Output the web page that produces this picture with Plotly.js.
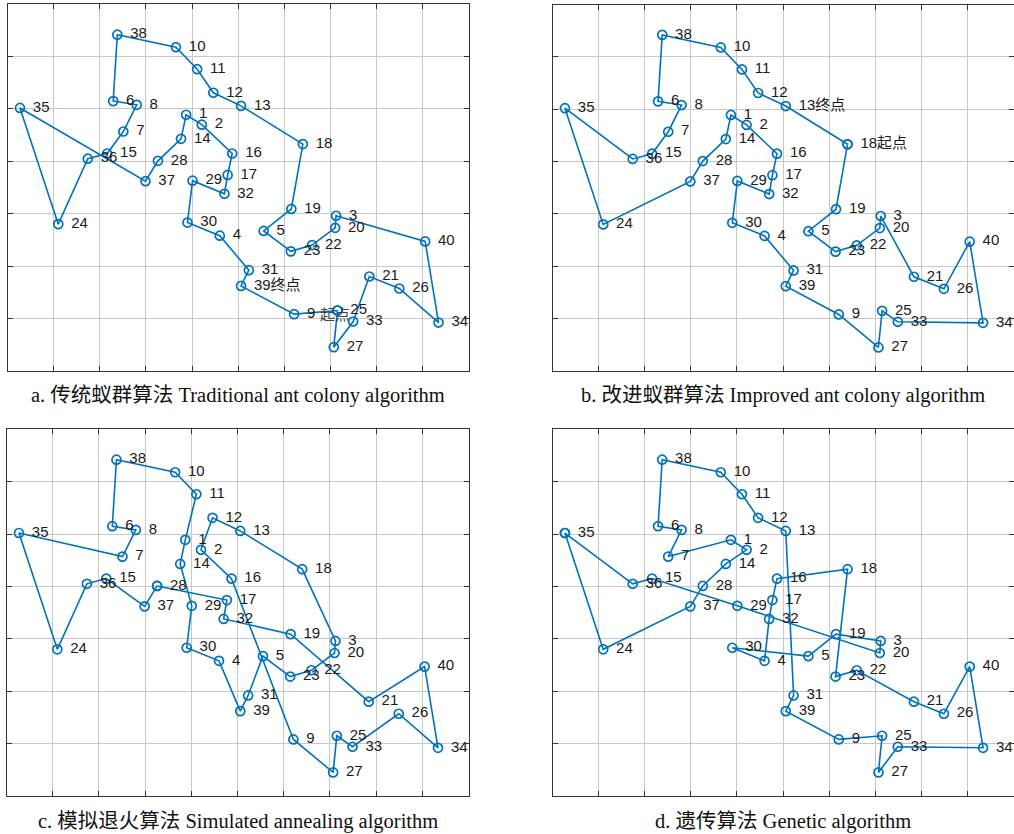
<!DOCTYPE html>
<html>
<head>
<meta charset="utf-8">
<script src="https://cdn.plot.ly/plotly-3.0.1.min.js"></script>
<style>html,body{margin:0;padding:0;background:#fff;}#chart{width:1014px;height:834px;}</style>
</head>
<body>
<div id="chart"></div>
<script>
// City coordinates (city 1..40)
const cityX = [38.7,42.1,71.2,46.0,55.5,22.9,25.1,28.0,62.1,36.5,41.1,44.6,50.6,37.6,21.6,48.7,47.7,64.0,61.5,71.0,78.4,66.0,61.4,11.0,71.5,84.9,70.7,32.6,40.1,39.0,52.3,47.0,74.9,93.4,2.7,17.4,29.9,23.8,50.6,90.5];
const cityY = [48.9,47.0,29.6,25.8,26.7,51.5,45.7,50.8,10.8,61.8,57.6,53.1,50.6,44.3,41.5,41.5,37.4,43.3,30.9,27.3,18.0,24.0,22.8,28.0,11.5,15.7,4.5,40.1,36.3,28.3,19.2,33.8,9.4,9.2,50.2,40.5,36.2,64.2,16.2,24.7];

// Routes (closed tours)
const routeA = [25,27,33,21,26,34,40,3,20,22,23,5,19,18,13,12,11,10,38,6,8,7,15,36,24,35,37,28,14,1,2,16,17,32,29,30,4,31,39,9];
const routeB = [18,19,5,23,22,20,3,21,26,40,34,33,25,27,9,39,31,4,30,29,32,17,16,2,1,14,28,37,24,35,36,15,7,8,6,38,10,11,12,13];
const routeC = [28,17,32,19,21,40,34,26,33,25,27,9,16,2,12,13,18,3,20,22,23,5,31,39,4,30,29,14,1,11,10,38,6,8,7,35,24,36,15,37];
const routeD = [35,24,37,28,14,2,1,7,8,6,38,10,11,12,13,31,39,9,25,27,33,34,40,26,21,22,23,18,16,17,32,4,30,5,19,3,20,29,15,36];

// Label overrides
const labelsA = {39: "39终点"};
const labelsB = {13: "13终点", 18: "18起点"};
const captions = [
  "a. 传统蚁群算法 Traditional ant colony algorithm",
  "b. 改进蚁群算法 Improved ant colony algorithm",
  "c. 模拟退火算法 Simulated annealing algorithm",
  "d. 遗传算法 Genetic algorithm"
];

const BLUE = '#0072BD';
const panels = [
  {route: routeA, labels: labelsA, x:[7.5,469], y:[4.3,370.7]},
  {route: routeB, labels: labelsB, x:[552.5,1013.5], y:[4.5,371]},
  {route: routeC, labels: {}, x:[6.5,468.5], y:[429.3,796]},
  {route: routeD, labels: {}, x:[552.5,1013.5], y:[429.3,796]}
];
const W = 1014, H = 834;
const traces = [];
const layout = {
  width: W, height: H, margin:{l:0,r:0,t:0,b:0},
  paper_bgcolor:'#fff', plot_bgcolor:'#fff', showlegend:false,
  annotations: []
};
panels.forEach((p, i) => {
  const k = i === 0 ? '' : String(i+1);
  const xa = 'x' + k, ya = 'y' + k;
  const rx = p.route.map(c => cityX[c-1]).concat([cityX[p.route[0]-1]]);
  const ry = p.route.map(c => cityY[c-1]).concat([cityY[p.route[0]-1]]);
  traces.push({type:'scatter', mode:'lines+markers', x: rx, y: ry, xaxis: xa, yaxis: ya,
    line:{color:BLUE, width:1.6}, marker:{symbol:'circle-open', size:9, color:BLUE, line:{width:1.7, color:BLUE}},
    hoverinfo:'skip', cliponaxis:false});
  const ids = cityX.map((_, j) => j+1);
  traces.push({type:'scatter', mode:'markers+text', x: cityX, y: cityY, xaxis: xa, yaxis: ya,
    text: ids.map(n => p.labels[n] || String(n)), textposition:'middle right',
    textfont:{family:'Liberation Sans, Arial, Noto Sans CJK SC, sans-serif', size:15, color:'#1a1a1a'},
    marker:{size:19, opacity:0}, hoverinfo:'skip', cliponaxis:false});
  const axCommon = {showticklabels:false, ticks:'inside', ticklen:5, tickcolor:'#333', tickwidth:1,
    showline:true, linecolor:'#333', linewidth:1, mirror:'allticks', showgrid:true, gridcolor:'#c8c8c8', gridwidth:1,
    zeroline:false, fixedrange:true};
  layout['xaxis'+k] = Object.assign({}, axCommon, {range:[0,100], dtick:10, tick0:0, anchor: ya,
    domain:[p.x[0]/W, p.x[1]/W]});
  layout['yaxis'+k] = Object.assign({}, axCommon, {range:[0,70], dtick:10, tick0:0, anchor: xa,
    domain:[1 - p.y[1]/H, 1 - p.y[0]/H]});
  layout.annotations.push({xref:'paper', yref:'paper', x:(p.x[0]+p.x[1])/2/W, y:1 - (p.y[1]+25)/H,
    text: captions[i], showarrow:false, xanchor:'center', yanchor:'middle',
    font:{family:'Liberation Serif, Times New Roman, Noto Sans CJK SC, serif', size:20.5, color:'#111'}});
});
// "起点" marker text in panel a (start point near city 25)
layout.annotations.push({xref:'x', yref:'y', x: cityX[24]-0.5, y: cityY[24]-0.6, text:'起点', showarrow:false,
  xanchor:'center', yanchor:'middle', font:{family:'Noto Sans CJK SC, sans-serif', size:15, color:'#444'}});
Plotly.newPlot('chart', traces, layout, {staticPlot:true, displayModeBar:false});
</script>
</body>
</html>
